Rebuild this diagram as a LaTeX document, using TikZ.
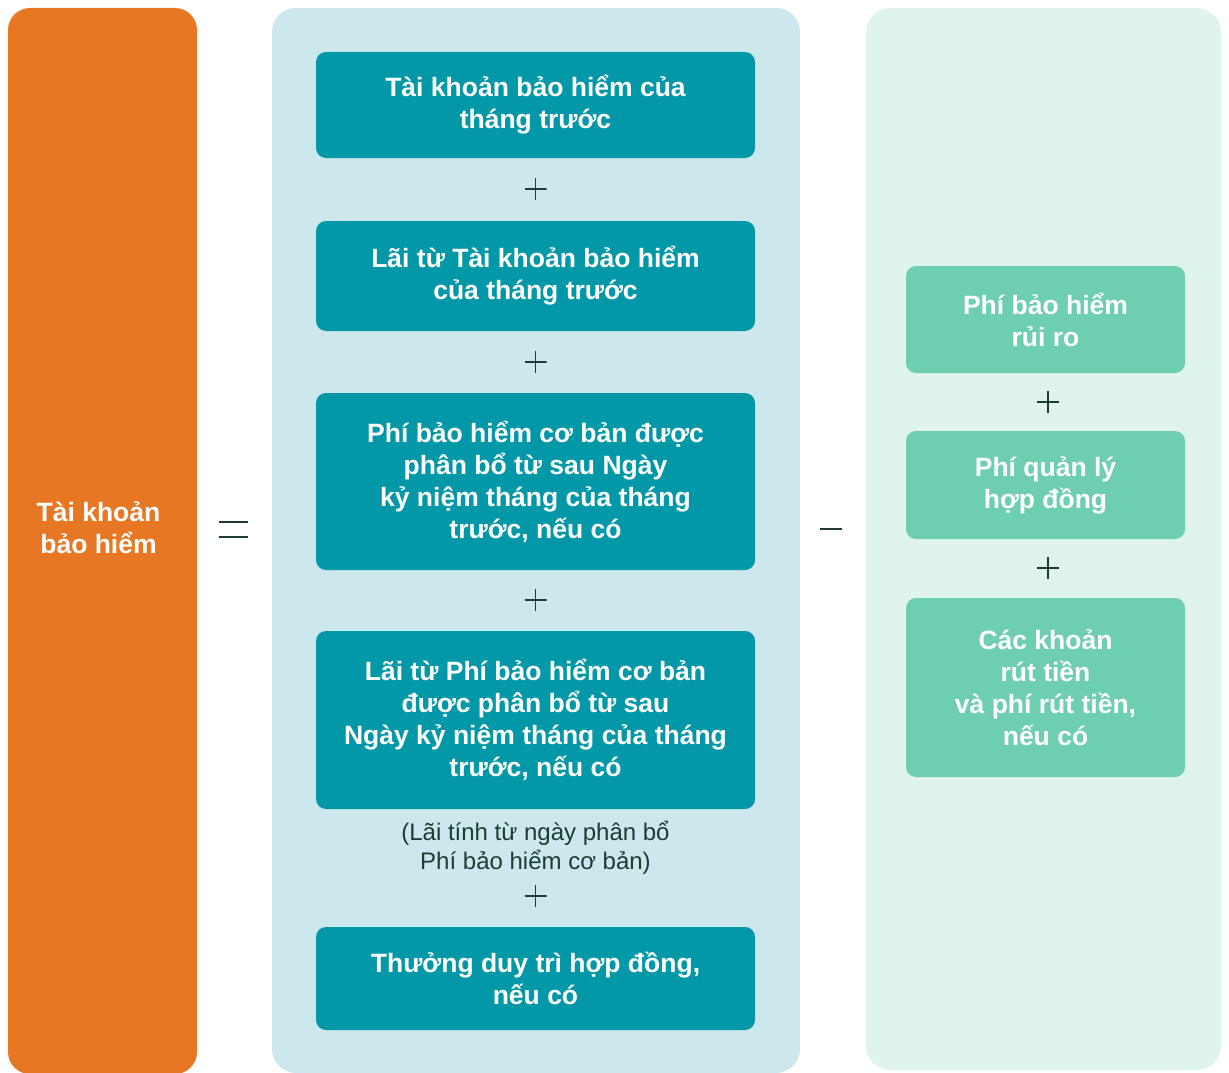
\documentclass[tikz,border=0pt]{standalone}
\usepackage{fontspec}
\setmainfont{Liberation Sans}
\usetikzlibrary{positioning}

\definecolor{accorange}{HTML}{E77722}
\definecolor{midpanel}{HTML}{CCE8EC}
\definecolor{rightpanel}{HTML}{E0F4EF}
\definecolor{tealbox}{HTML}{0298A8}
\definecolor{greenbox}{HTML}{6DCEB1}
\definecolor{signcol}{HTML}{1E3B35}

\tikzset{
  box/.style={rounded corners=10pt, text=white, align=center,
    font=\fontsize{26.5}{32}\selectfont\bfseries, inner sep=0pt},
  midbox/.style={box, fill=tealbox, minimum width=439pt},
  sidebox/.style={box, fill=greenbox, minimum width=279pt},
  plussign/.style={minimum size=22pt, inner sep=0pt,
    path picture={\draw[signcol, line width=1.6pt]
      (path picture bounding box.west) -- (path picture bounding box.east)
      (path picture bounding box.north) -- (path picture bounding box.south);}},
}

\begin{document}
\begin{tikzpicture}[x=1pt, y=-1pt]
  \useasboundingbox (0,0) rectangle (1229,1073);

  % background panels
  \fill[midpanel, rounded corners=24pt] (272,8) rectangle (800,1073);
  \fill[rightpanel, rounded corners=24pt] (866,8) rectangle (1221,1070);

  % left side
  \fill[accorange, rounded corners=22pt] (8,8) rectangle (197,1074);
  \node[box] (acct) at (98.5,528) {Tài khoản\\bảo hiểm};

  % equals sign
  \coordinate (eqa) at (219,522);
  \coordinate (eqb) at (248,522);
  \coordinate (eqc) at (219,537);
  \coordinate (eqd) at (248,537);
  \draw[signcol, line width=2pt] (eqa) -- (eqb) (eqc) -- (eqd);

  % middle column
  \node[midbox, minimum height=106pt] (prev) at (535.5,105)
    {Tài khoản bảo hiểm của\\tháng trước};
  \node[plussign] (p1) at (535.5,189) {};
  \node[midbox, minimum height=110pt] (interest) at (535.5,276)
    {Lãi từ Tài khoản bảo hiểm\\của tháng trước};
  \node[plussign] (p2) at (535.5,362) {};
  \node[midbox, minimum height=177pt] (base) at (535.5,481.5)
    {Phí bảo hiểm cơ bản được\\phân bổ từ sau Ngày\\kỷ niệm tháng của tháng\\trước, nếu có};
  \node[plussign] (p3) at (535.5,600) {};
  \node[midbox, minimum height=178pt] (baseint) at (535.5,720)
    {Lãi từ Phí bảo hiểm cơ bản\\được phân bổ từ sau\\Ngày kỷ niệm tháng của tháng\\trước, nếu có};
  \node[align=center, text=signcol, font=\fontsize{24}{29}\selectfont,
    inner sep=0pt] (note) at (535.5,848)
    {(Lãi tính từ ngày phân bổ\\Phí bảo hiểm cơ bản)};
  \node[plussign] (p4) at (535.5,896) {};
  \node[midbox, minimum height=103pt] (bonus) at (535.5,978.5)
    {Thưởng duy trì hợp đồng,\\nếu có};

  % minus sign
  \coordinate (mia) at (820,529);
  \coordinate (mib) at (842,529);
  \draw[signcol, line width=2pt] (mia) -- (mib);

  % right column
  \node[sidebox, minimum height=107pt] (risk) at (1045.5,319.5)
    {Phí bảo hiểm\\rủi ro};
  \node[plussign] (p5) at (1048,402) {};
  \node[sidebox, minimum height=108pt] (admin) at (1045.5,485)
    {Phí quản lý\\hợp đồng};
  \node[plussign] (p6) at (1048,568) {};
  \node[sidebox, minimum height=179pt] (withdraw) at (1045.5,687.5)
    {Các khoản\\rút tiền\\và phí rút tiền,\\nếu có};
\end{tikzpicture}
\end{document}
